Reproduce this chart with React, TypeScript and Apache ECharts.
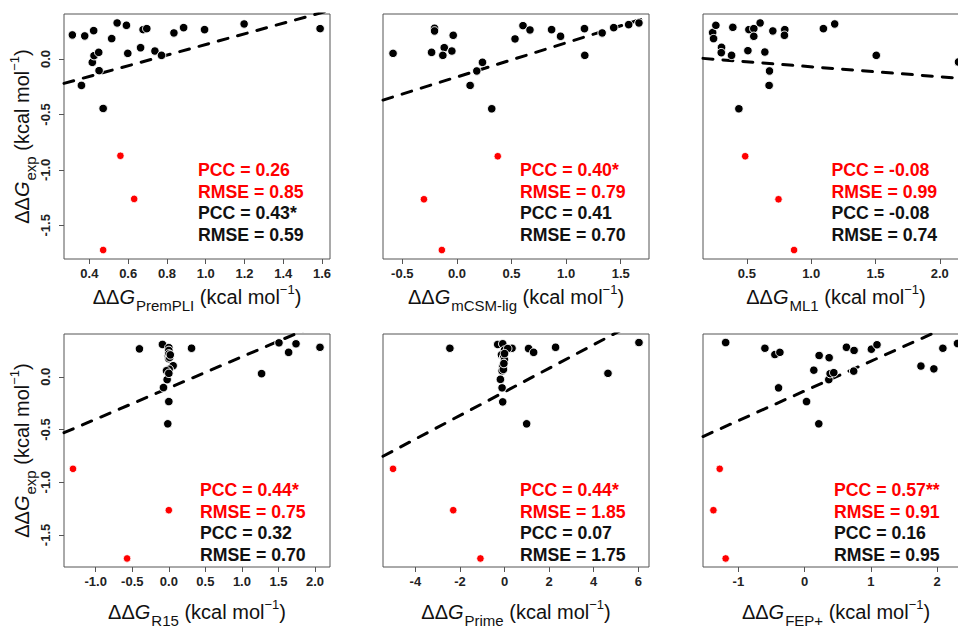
import React, { useEffect, useRef } from "react";
import * as echarts from "echarts";

type Pt = [number, number];

// ---- data: [predicted ΔΔG, experimental ΔΔG] ----
const premPliBlack: Pt[] = [
  [0.312, 0.217], [0.376, 0.208], [0.422, 0.256], [0.359, -0.238], [0.415, -0.03],
  [0.424, 0.03], [0.448, 0.06], [0.45, -0.105], [0.471, -0.446], [0.515, 0.184],
  [0.543, 0.325], [0.591, 0.304], [0.598, 0.051], [0.664, 0.102], [0.677, 0.265],
  [0.696, 0.274], [0.738, 0.072], [0.772, 0.033], [0.836, 0.235], [0.886, 0.283],
  [0.994, 0.265], [1.198, 0.316], [1.59, 0.274],
];
const premPliRed: Pt[] = [[0.56, -0.873], [0.631, -1.262], [0.471, -1.723]];

const mcsmBlack: Pt[] = [
  [-0.585, 0.051], [-0.205, 0.277], [-0.205, 0.253], [-0.232, 0.06], [-0.116, 0.102],
  [-0.129, 0.033], [-0.046, 0.072], [-0.034, 0.214], [0.121, -0.238], [0.182, -0.108],
  [0.234, -0.03], [0.319, -0.449], [0.532, 0.181], [0.605, 0.301], [0.669, 0.262],
  [0.867, 0.265], [0.949, 0.205], [1.168, 0.274], [1.171, 0.033], [1.33, 0.235],
  [1.436, 0.283], [1.573, 0.31], [1.667, 0.325],
];
const mcsmRed: Pt[] = [[0.374, -0.877], [-0.302, -1.265], [-0.138, -1.723]];

const ml1Black: Pt[] = [
  [0.234, 0.238], [0.241, 0.184], [0.259, 0.304], [0.303, 0.105], [0.301, 0.057],
  [0.381, 0.033], [0.391, 0.286], [0.438, -0.449], [0.508, 0.075], [0.516, 0.265],
  [0.554, 0.274], [0.554, 0.205], [0.603, 0.325], [0.64, 0.063], [0.676, -0.108],
  [0.673, -0.238], [0.702, 0.253], [0.795, 0.265], [0.792, 0.214], [1.095, 0.274],
  [1.183, 0.316], [1.506, 0.033], [2.145, -0.027],
];
const ml1Red: Pt[] = [[0.487, -0.877], [0.746, -1.265], [0.867, -1.723]];

const r15Black: Pt[] = [
  [-0.402, 0.265], [-0.087, 0.307], [0.0, 0.277], [0.0, 0.25], [-0.009, 0.202],
  [0.0, 0.172], [0.059, 0.105], [0.005, 0.072], [-0.032, 0.057], [-0.023, -0.027],
  [-0.073, -0.102], [0.0, -0.235], [-0.014, -0.446], [0.311, 0.271], [1.269, 0.03],
  [1.507, 0.322], [1.639, 0.232], [1.74, 0.313], [2.068, 0.28], [0.0, 0.217],
  [0.01, 0.184], [0.0, 0.033], [0.02, 0.208],
];
const r15Red: Pt[] = [[-1.311, -0.873], [0.0, -1.265], [-0.571, -1.723]];

const primeBlack: Pt[] = [
  [-2.45, 0.271], [-0.304, 0.307], [-0.08, 0.313], [-0.006, 0.253], [0.337, 0.271],
  [0.143, 0.268], [-0.14, 0.208], [-0.036, 0.187], [-0.08, 0.096], [-0.11, 0.057],
  [-0.185, -0.024], [-0.11, -0.105], [-0.08, -0.238], [0.993, -0.446], [1.08, 0.268],
  [1.306, 0.232], [2.29, 0.28], [4.64, 0.033], [6.03, 0.325], [0.0, 0.16],
  [-0.05, 0.07], [0.0, 0.22], [-0.03, 0.126],
];
const primeRed: Pt[] = [[-5.0, -0.873], [-2.3, -1.265], [-1.08, -1.723]];

const fepBlack: Pt[] = [
  [-1.191, 0.325], [-0.599, 0.271], [-0.448, 0.211], [-0.373, 0.232], [-0.393, -0.105],
  [0.029, -0.235], [0.139, 0.063], [0.219, 0.202], [0.214, -0.446], [0.37, 0.181],
  [0.365, -0.027], [0.385, 0.03], [0.44, 0.039], [0.631, 0.28], [0.746, 0.25],
  [0.741, 0.054], [1.007, 0.262], [1.092, 0.304], [1.755, 0.102], [1.95, 0.075],
  [2.086, 0.271], [2.307, 0.316],
];
const fepRed: Pt[] = [[-1.281, -0.873], [-1.376, -1.265], [-1.191, -1.723]];

// Regression lines: [intercept, slope]
const premPliFit: Pt = [-0.349, 0.48];
const mcsmFit: Pt = [-0.162, 0.308];
const ml1Fit: Pt = [0.02, -0.09];
const r15Fit: Pt = [-0.106, 0.296];
const primeFit: Pt = [-0.143, 0.112];
const fepFit: Pt = [-0.134, 0.282];

// Axis extents and tick values
const yRange: Pt = [-1.804, 0.406];
const yTicks = [-1.5, -1.0, -0.5, 0.0];
const premPliRange: Pt = [0.269, 1.641];
const premPliTicks = [0.4, 0.6, 0.8, 1.0, 1.2, 1.4, 1.6];
const mcsmRange: Pt = [-0.677, 1.759];
const mcsmTicks = [-0.5, 0.0, 0.5, 1.0, 1.5];
const ml1Range: Pt = [0.159, 2.227];
const ml1Ticks = [0.5, 1.0, 1.5, 2.0];
const r15Range: Pt = [-1.434, 2.205];
const r15Ticks = [-1.0, -0.5, 0.0, 0.5, 1.0, 1.5, 2.0];
const primeRange: Pt = [-5.45, 6.48];
const primeTicks = [-4, -2, 0, 2, 4, 6];
const fepRange: Pt = [-1.533, 2.48];
const fepTicks = [-1, 0, 1, 2];

// Statistics: [all compounds PCC, RMSE], [subset PCC, RMSE]
const premPliStats = ["0.26", "0.85", "0.43*", "0.59"];
const mcsmStats = ["0.40*", "0.79", "0.41", "0.70"];
const ml1Stats = ["-0.08", "0.99", "-0.08", "0.74"];
const r15Stats = ["0.44*", "0.75", "0.32", "0.70"];
const primeStats = ["0.44*", "1.85", "0.07", "1.75"];
const fepStats = ["0.57**", "0.91", "0.16", "0.95"];

const methods = ["PremPLI", "mCSM-lig", "ML1", "R15", "Prime", "FEP+"];

const panels = [
  { black: premPliBlack, red: premPliRed, fit: premPliFit, range: premPliRange, ticks: premPliTicks, dec: 1, stats: premPliStats },
  { black: mcsmBlack, red: mcsmRed, fit: mcsmFit, range: mcsmRange, ticks: mcsmTicks, dec: 1, stats: mcsmStats },
  { black: ml1Black, red: ml1Red, fit: ml1Fit, range: ml1Range, ticks: ml1Ticks, dec: 1, stats: ml1Stats },
  { black: r15Black, red: r15Red, fit: r15Fit, range: r15Range, ticks: r15Ticks, dec: 1, stats: r15Stats },
  { black: primeBlack, red: primeRed, fit: primeFit, range: primeRange, ticks: primeTicks, dec: 0, stats: primeStats },
  { black: fepBlack, red: fepRed, fit: fepFit, range: fepRange, ticks: fepTicks, dec: 0, stats: fepStats },
];

// ---- layout ----
// The drawing surface is wider than the visible frame so the right-hand
// column keeps its full width and is simply cut off at the frame edge.
const VIEW_W = 958;
const VIEW_H = 629;
const CHART_W = 990;
const COL_LEFT = [64, 383, 703];
const ROW_TOP = [14, 334];
const ROW_HEIGHT = [245, 244];
const PANEL_W = 266;
const STATS_LEFT = [134, 137, 128.5, 136, 137, 131];
const STATS_TOP = 156;
const STATS_STEP = 21.7;
const X_NAME_GAP = [23, 32];

const FONT = "'Liberation Sans', Arial, Helvetica, sans-serif";
const RED = "#ff0000";
const INK = "#111111";

const titleRich = {
  d: { fontSize: 20, fontFamily: FONT, color: INK, lineHeight: 26 },
  g: { fontSize: 20, fontFamily: FONT, color: INK, fontStyle: "italic", lineHeight: 26 },
  s: { fontSize: 15, fontFamily: FONT, color: INK, lineHeight: 15, padding: [17, 0, 0, 1] },
  t: { fontSize: 20, fontFamily: FONT, color: INK, lineHeight: 26 },
  u: { fontSize: 13, fontFamily: FONT, color: INK, lineHeight: 13, padding: [0, 0, 15, 0] },
};

const axisTitle = (sub: string) =>
  `{d|ΔΔ}{g|G}{s|${sub}}{t| (kcal mol}{u|−1}{t|)}`;

export default function App() {
  const ref = useRef<HTMLDivElement>(null);

  useEffect(() => {
    if (!ref.current) return;
    const chart = echarts.init(ref.current, undefined, { renderer: "svg", width: CHART_W, height: VIEW_H });

    const grids: any[] = [];
    const xAxes: any[] = [];
    const yAxes: any[] = [];
    const series: any[] = [];
    const graphics: any[] = [];

    panels.forEach((p, i) => {
      const row = Math.floor(i / 3);
      const col = i % 3;
      const left = COL_LEFT[col];
      const top = ROW_TOP[row];
      grids.push({
        left,
        top,
        width: PANEL_W,
        height: ROW_HEIGHT[row],
        show: true,
        borderColor: "#555",
        borderWidth: 1,
        backgroundColor: "transparent",
      });
      xAxes.push({
        type: "value",
        gridIndex: i,
        position: "bottom",
        min: p.range[0],
        max: p.range[1],
        splitLine: { show: false },
        axisLine: { show: false, onZero: false },
        axisTick: { show: true, length: 5, lineStyle: { color: "#555" }, customValues: p.ticks },
        axisLabel: {
          customValues: p.ticks,
          formatter: (v: number) => v.toFixed(p.dec),
          fontFamily: FONT,
          fontWeight: "bold",
          fontSize: 13,
          color: "#222",
          margin: 8,
        },
        name: axisTitle(methods[i]),
        nameLocation: "middle",
        nameGap: X_NAME_GAP[row],
        nameTextStyle: { rich: titleRich },
      });
      const showY = col === 0;
      yAxes.push({
        type: "value",
        gridIndex: i,
        position: "left",
        min: yRange[0],
        max: yRange[1],
        splitLine: { show: false },
        axisLine: { show: false, onZero: false },
        axisTick: { show: showY, length: 5, lineStyle: { color: "#555" }, customValues: yTicks },
        axisLabel: {
          show: showY,
          customValues: yTicks,
          formatter: (v: number) => v.toFixed(1),
          rotate: 90,
          fontFamily: FONT,
          fontWeight: "bold",
          fontSize: 13,
          color: "#222",
          margin: 12,
        },
        name: showY ? axisTitle("exp") : "",
        nameLocation: "middle",
        nameGap: 22,
        nameTextStyle: { rich: titleRich },
      });

      const [a, b] = p.fit;
      series.push({
        type: "line",
        xAxisIndex: i,
        yAxisIndex: i,
        data: [
          [p.range[0], a + b * p.range[0]],
          [p.range[1], a + b * p.range[1]],
        ],
        showSymbol: false,
        symbol: "none",
        clip: true,
        lineStyle: { color: "#000", width: 3, type: [10, 10], cap: "round" },
        silent: true,
        z: 2,
      });
      series.push({
        type: "scatter",
        xAxisIndex: i,
        yAxisIndex: i,
        data: p.black,
        symbolSize: 8.5,
        itemStyle: { color: "#000", borderColor: "#fff", borderWidth: 1, opacity: 1 },
        clip: true,
        z: 3,
      });
      series.push({
        type: "scatter",
        xAxisIndex: i,
        yAxisIndex: i,
        data: p.red,
        symbolSize: 7.5,
        itemStyle: { color: RED, borderColor: "#fff", borderWidth: 0.8, opacity: 1 },
        clip: true,
        z: 4,
      });

      const lines = [
        { text: `PCC = ${p.stats[0]}`, fill: RED },
        { text: `RMSE = ${p.stats[1]}`, fill: RED },
        { text: `PCC = ${p.stats[2]}`, fill: INK },
        { text: `RMSE = ${p.stats[3]}`, fill: INK },
      ];
      lines.forEach((ln, k) => {
        graphics.push({
          type: "text",
          x: left + STATS_LEFT[i],
          y: top + STATS_TOP + k * STATS_STEP,
          z: 10,
          style: {
            text: ln.text,
            fill: ln.fill,
            fontFamily: FONT,
            fontWeight: "bold",
            fontSize: 17.7,
            align: "left",
            verticalAlign: "middle",
          },
        });
      });
    });

    chart.setOption({
      animation: false,
      backgroundColor: "#ffffff",
      grid: grids,
      xAxis: xAxes,
      yAxis: yAxes,
      series,
      graphic: graphics,
    });

    return () => chart.dispose();
  }, []);

  return (
    <div
      style={{
        position: "fixed",
        left: 0,
        top: 0,
        width: VIEW_W,
        height: VIEW_H,
        overflow: "hidden",
        background: "#fff",
      }}
    >
      <div ref={ref} style={{ width: CHART_W, height: VIEW_H }} />
    </div>
  );
}
